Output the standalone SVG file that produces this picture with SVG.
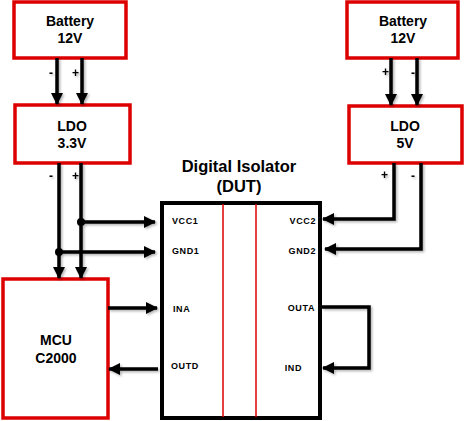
<svg xmlns="http://www.w3.org/2000/svg" width="465" height="421" viewBox="0 0 465 421">
<defs>
<marker id="ah" markerUnits="userSpaceOnUse" markerWidth="12" markerHeight="12" refX="11" refY="6" orient="auto">
<path d="M0,0 L12,6 L0,12 Z" fill="#000"/>
</marker>
<filter id="sh" x="-20%" y="-20%" width="140%" height="140%">
<feDropShadow dx="1.5" dy="1.5" stdDeviation="1" flood-color="#000" flood-opacity="0.3"/>
</filter>
</defs>
<style>
.box{fill:#fff;stroke:#dd0000;stroke-width:3.5}
.dut{fill:#fff;stroke:#000;stroke-width:4}
.sep{stroke:#dd0000;stroke-width:1.5}
.w{fill:none;stroke:#000;stroke-width:3.5}
.t{font-family:"Liberation Sans",Arial,sans-serif;font-weight:bold;font-size:14px;text-anchor:middle;fill:#000}
.h{font-family:"Liberation Sans",Arial,sans-serif;font-weight:bold;font-size:16.5px;text-anchor:middle;fill:#000}
.p{font-family:"Liberation Sans",Arial,sans-serif;font-weight:bold;font-size:9px;letter-spacing:0.6px;fill:#000}
.s{font-family:"Liberation Sans",Arial,sans-serif;font-weight:bold;font-size:12px;fill:#000}
</style>
<g id="battery-left">
<rect class="box" x="14" y="2" width="112" height="56"/>
<text class="t" x="70" y="26">Battery</text>
<text class="t" x="70" y="43">12V</text>
</g>
<g id="battery-right">
<rect class="box" x="347" y="2" width="111" height="56"/>
<text class="t" x="403" y="26">Battery</text>
<text class="t" x="403" y="43">12V</text>
</g>
<g id="ldo-left">
<rect class="box" x="15" y="105" width="115" height="58"/>
<text class="t" x="72" y="131">LDO</text>
<text class="t" x="72" y="148">3.3V</text>
</g>
<g id="ldo-right">
<rect class="box" x="349" y="106" width="113" height="57"/>
<text class="t" x="405" y="131">LDO</text>
<text class="t" x="405" y="148">5V</text>
</g>
<g id="mcu">
<rect class="box" x="3" y="279" width="105" height="139"/>
<text class="t" x="56" y="345">MCU</text>
<text class="t" x="56" y="363">C2000</text>
</g>
<g id="dut">
<text class="h" x="239" y="172">Digital Isolator</text>
<text class="h" x="239" y="192">(DUT)</text>
<rect class="dut" x="162" y="203" width="158" height="215"/>
<line class="sep" x1="223" y1="204" x2="223" y2="417"/>
<line class="sep" x1="256" y1="204" x2="256" y2="417"/>
<text class="p" x="172" y="224">VCC1</text>
<text class="p" x="172" y="254">GND1</text>
<text class="p" x="173" y="312">INA</text>
<text class="p" x="171" y="369">OUTD</text>
<text class="p" x="316" y="224" text-anchor="end">VCC2</text>
<text class="p" x="316" y="254" text-anchor="end">GND2</text>
<text class="p" x="315" y="311" text-anchor="end">OUTA</text>
<text class="p" x="302" y="371" text-anchor="end">IND</text>
</g>
<g id="connectors" filter="url(#sh)">
<line class="w" x1="57" y1="58" x2="57" y2="104" marker-end="url(#ah)"/>
<line class="w" x1="82" y1="58" x2="82" y2="104" marker-end="url(#ah)"/>
<line class="w" x1="391" y1="58" x2="391" y2="105" marker-end="url(#ah)"/>
<line class="w" x1="417" y1="58" x2="417" y2="105" marker-end="url(#ah)"/>
<line class="w" x1="59" y1="163" x2="59" y2="278" marker-end="url(#ah)"/>
<line class="w" x1="81" y1="163" x2="81" y2="278" marker-end="url(#ah)"/>
<line class="w" x1="81" y1="222" x2="155" y2="222" marker-end="url(#ah)"/>
<line class="w" x1="59" y1="252" x2="155" y2="252" marker-end="url(#ah)"/>
<circle cx="81" cy="222" r="4" fill="#000"/>
<circle cx="59" cy="252" r="4" fill="#000"/>
<line class="w" x1="108" y1="308" x2="157" y2="308" marker-end="url(#ah)"/>
<line class="w" x1="158" y1="369" x2="109" y2="369" marker-end="url(#ah)"/>
<polyline class="w" points="394,163 394,219 323,219" marker-end="url(#ah)"/>
<polyline class="w" points="421,163 421,249 325,249" marker-end="url(#ah)"/>
<polyline class="w" points="322,307 369,307 369,368 323,368" marker-end="url(#ah)"/>
<text class="s" x="49" y="77">-</text>
<text class="s" x="72" y="77">+</text>
<text class="s" x="382" y="76">+</text>
<text class="s" x="411" y="77">-</text>
<text class="s" x="49" y="180">-</text>
<text class="s" x="72" y="180">+</text>
<text class="s" x="381" y="179">+</text>
<text class="s" x="411" y="180">-</text>
</g>
</svg>
